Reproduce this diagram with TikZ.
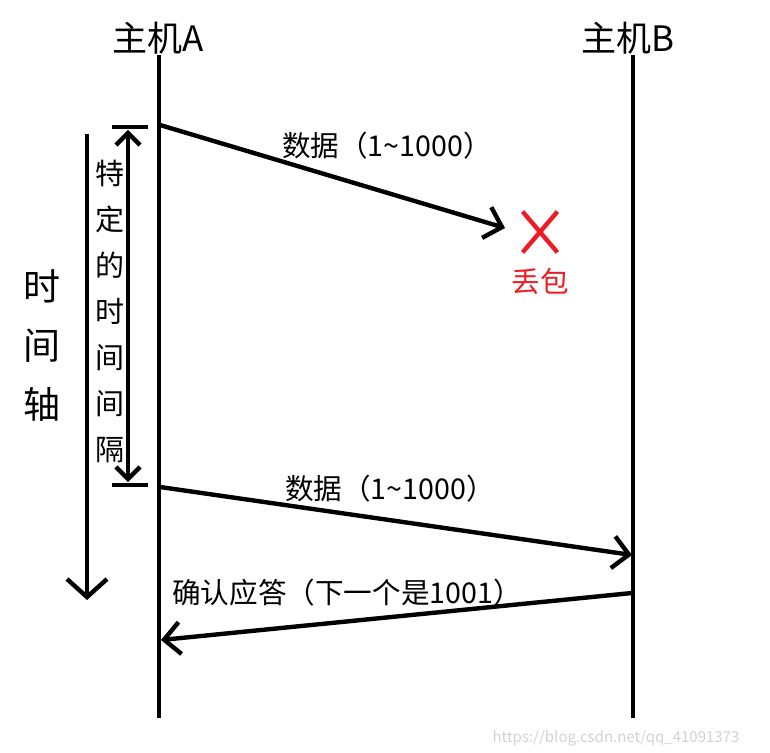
\documentclass[tikz,border=0pt]{standalone}
\usepackage{fontspec}
\setmainfont{Noto Sans CJK SC}
\usepackage{tikz}
\usetikzlibrary{positioning, arrows.meta}
\definecolor{lostRed}{RGB}{237,28,36}
\tikzstyle{hostLine}=[line width=2.2pt]
\tikzstyle{hostLabel}=[font=\fontsize{17.5}{20}\selectfont, inner sep=0pt]
\tikzstyle{msgLabel}=[font=\fontsize{14.3}{17}\selectfont, inner sep=0pt]
\tikzstyle{message}=[line width=2.2pt, -{Straight Barb[length=8pt,width=16pt,line width=2.2pt]}]
\tikzstyle{intervalBar}=[line width=2.2pt]
\tikzstyle{interval}=[line width=2.2pt, {Straight Barb[length=6pt,width=12pt,line width=2.2pt]}-{Straight Barb[length=6pt,width=12pt,line width=2.2pt]}]
\tikzstyle{timeAxis}=[line width=2.2pt, -{Straight Barb[length=9pt,width=20pt,line width=2.2pt]}]
\newcommand{\tld}{\char"007E\relax}

\begin{document}
\begin{tikzpicture}[x=0.5pt, y=-0.5pt]
        \useasboundingbox (0, 0) rectangle (770, 753);

        % hosts
        \node[hostLabel] (hostA) at (158, 38) {主机A};
        \node[hostLabel] (hostB) at (628, 38) {主机B};
        \coordinate (aTop) at (159, 55);
        \coordinate (aBot) at (159, 718);
        \coordinate (bTop) at (633, 55);
        \coordinate (bBot) at (633, 718);
        \draw[hostLine] (aTop) -- (aBot);
        \draw[hostLine] (bTop) -- (bBot);

        % time axis
        \coordinate (tStart) at (87, 134);
        \coordinate (tEnd) at (87, 600);
        \draw[timeAxis] (tStart) -- (tEnd);
        \node[align=center, font=\fontsize{18.5}{29.5}\selectfont, inner sep=0pt] (axisLabel) at (42, 346) {时\\间\\轴};

        % interval
        \coordinate (barTopL) at (112, 127);
        \coordinate (barTopR) at (148, 127);
        \coordinate (barBotL) at (112, 485);
        \coordinate (barBotR) at (148, 485);
        \draw[intervalBar] (barTopL) -- (barTopR);
        \draw[intervalBar] (barBotL) -- (barBotR);
        \coordinate (ivTop) at (128, 130);
        \coordinate (ivBot) at (128, 482);
        \draw[interval] (ivTop) -- (ivBot);
        \node[align=center, font=\fontsize{14.5}{23}\selectfont, inner sep=0pt] (ivLabel) at (110, 311) {特\\定\\的\\时\\间\\间\\隔};

        % messages
        \coordinate (m1s) at (160, 125);
        \coordinate (m1e) at (505, 228);
        \draw[message] (m1s) -- (m1e);
        \node[msgLabel] (m1Label) at (387, 146) {数据（1\tld 1000）};

        \coordinate (m2s) at (160, 487);
        \coordinate (m2e) at (632, 555);
        \draw[message] (m2s) -- (m2e);
        \node[msgLabel] (m2Label) at (390, 489) {数据（1\tld 1000）};

        \coordinate (m3s) at (632, 593);
        \coordinate (m3e) at (161, 640);
        \draw[message] (m3s) -- (m3e);
        \node[msgLabel] (m3Label) at (347, 593) {确认应答（下一个是1001）};

        % lost packet
        \node[minimum width=17pt, minimum height=20pt] (lost) at (540, 232) {};
        \draw[lostRed, line width=2.2pt] (lost.north west) -- (lost.south east);
        \draw[lostRed, line width=2.2pt] (lost.north east) -- (lost.south west);
        \node[msgLabel, text=lostRed, below=8pt of lost] (lostLabel) {丢包};

        \node[font=\fontsize{7.5}{9}\selectfont, text=gray!35, inner sep=0pt] (mark) at (616, 738) {https://blog.csdn.net/qq\_41091373};

    \end{tikzpicture}
\end{document}
